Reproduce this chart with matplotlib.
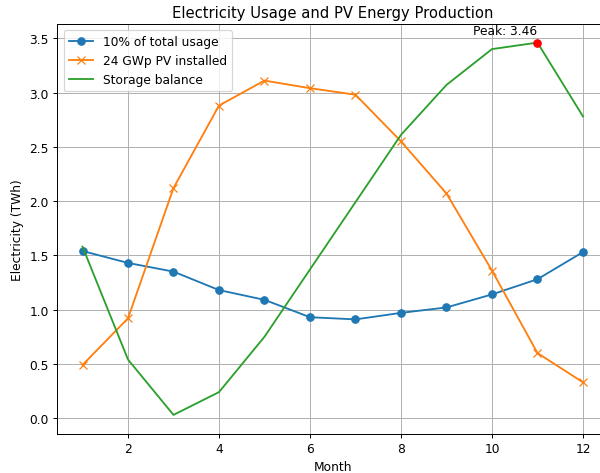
import matplotlib
matplotlib.use("Agg")
import matplotlib.pyplot as plt

months = list(range(1, 13))
usage = [1.54, 1.43, 1.35, 1.18, 1.09, 0.93, 0.91, 0.97, 1.02, 1.14, 1.28, 1.53]
pv = [0.49, 0.92, 2.12, 2.88, 3.11, 3.04, 2.98, 2.55, 2.07, 1.36, 0.60, 0.33]
storage = [1.58, 0.54, 0.03, 0.24, 0.75, 1.37, 1.99, 2.61, 3.07, 3.40, 3.46, 2.78]

DPI = 88.6
fig = plt.figure(figsize=(600 / DPI, 474 / DPI), dpi=DPI)
ax = fig.add_axes([0.0958, 0.0833, 0.9175, 0.864])

ax.plot(months, usage, marker="o", label="10% of total usage")
ax.plot(months, pv, marker="x", label="24 GWp PV installed")
ax.plot(months, storage, label="Storage balance")

# mark the storage peak
peak = max(storage)
peak_month = months[storage.index(peak)]
ax.plot(peak_month, peak, "ro")
ax.text(peak_month, peak + 0.05, f"Peak: {peak:.2f}", ha="right", va="bottom")

ax.set_title("Electricity Usage and PV Energy Production")
ax.set_xlabel("Month")
ax.set_ylabel("Electricity (TWh)")
ax.legend(loc="upper left")
ax.grid(True)

fig.savefig("out.png", dpi=DPI)
